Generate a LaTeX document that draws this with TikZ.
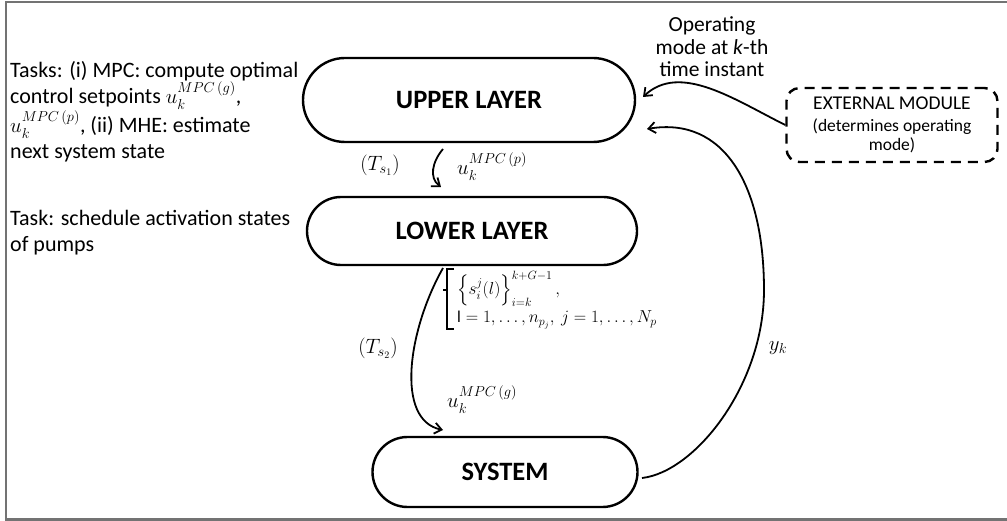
\documentclass[tikz,border=0pt]{standalone}
\usepackage{amsmath}
\usepackage{fontspec}
\setmainfont{Carlito}
\usetikzlibrary{shapes.misc,arrows.meta}
\begin{document}
\begin{tikzpicture}[x=1pt,y=-1pt,
  layer/.style={draw, line width=2.4pt, rounded rectangle, inner sep=0pt,
    font=\fontsize{26.5}{28}\selectfont\bfseries},
  extbox/.style={draw, line width=2.4pt, dash pattern=on 10pt off 7pt, rounded corners=13pt,
    inner sep=0pt, align=center, font=\fontsize{17.5}{19}\selectfont},
  txt/.style={inner sep=0pt, align=left, font=\fontsize{22}{26}\selectfont},
  mlab/.style={inner sep=0pt, font=\fontsize{20}{23}\selectfont},
  arr/.style={line width=1.8pt, -{Straight Barb[length=7pt,width=11pt]}},
  brk/.style={line width=1.3pt}
]
\useasboundingbox (0,0) rectangle (1007,521);
\draw[black!55, line width=2.2pt] (1010,2) -- (6,2) -- (6,519.5) -- (1010,519.5);

\node[layer, minimum width=332pt, minimum height=84pt] (up) at (469,100) {UPPER LAYER};
\node[layer, minimum width=330pt, minimum height=68pt] (low) at (472,231) {LOWER LAYER};
\node[layer, minimum width=265pt, minimum height=70pt] (sys) at (505,472) {SYSTEM};
\node[extbox, minimum width=211pt, minimum height=74pt] (ext) at (892,125)
  {{\fontsize{19.5}{20}\selectfont EXTERNAL MODULE}\\[3pt](determines operating\\mode)};

\node[txt, anchor=north west] (tasks) at (10,61)
  {Tasks: (i) MPC: compute optimal\\
   control setpoints $u_k^{MPC\,(g)}$,\\
   $u_k^{MPC\,(p)}$, (ii) MHE: estimate\\
   next system state};
\node[txt, anchor=north west] (task2) at (10,210)
  {Task: schedule activation states\\ of pumps};

\node[inner sep=0pt, align=center, font=\fontsize{21.5}{22.5}\selectfont] (opm) at (712,47)
  {Operating\\ mode at \textit{k}-th\\ time instant};

\node[mlab] (ts1) at (380,165) {$(T_{s_1})$};
\node[mlab, anchor=west] (up1) at (457,167) {$u_k^{MPC\,(p)}$};
\node[mlab] (ts2) at (378,348) {$(T_{s_2})$};
\node[mlab, anchor=west] (ug) at (447,400) {$u_k^{MPC\,(g)}$};
\node[mlab] (yk) at (778,348) {$y_k$};
\node[inner sep=0pt, font=\fontsize{16.5}{19}\selectfont, anchor=west] (sched) at (457,300)
  {$\begin{array}{@{}l}
     \left\{s_i^j(l)\right\}_{i=k}^{k+G-1}, \\[9pt]
     \mathrm{l}=1,\dots,n_{p_j},\ j=1,\dots,N_p
   \end{array}$};
\draw[brk] ([xshift=-3pt,yshift=2pt]sched.north west) -- ([xshift=-10pt,yshift=2pt]sched.north west)
  -- ([xshift=-10pt]sched.south west) -- ([xshift=-3pt]sched.south west);
\draw[brk] ([xshift=-10pt,yshift=-19pt]sched.north west) -- ++(-4pt,0);

\coordinate (a1s) at (443,149);
\coordinate (a1e) at (441,187);
\draw[arr] (a1s) .. controls (432,162) and (429,178) .. (a1e);

\coordinate (a2s) at (443,268);
\coordinate (a2e) at (443,430);
\draw[arr] (a2s) .. controls (408,330) and (395,420) .. (a2e);

\coordinate (fbs) at (642,478);
\coordinate (fbm) at (764,290);
\coordinate (fbe) at (647,129);
\draw[arr] (fbs) .. controls (695,472) and (764,385) .. (fbm)
  .. controls (764,185) and (724,116) .. (fbe);

\coordinate (ome) at (643,97);
\draw[arr] (ext.west) .. controls (735,100) and (680,62) .. (ome);
\end{tikzpicture}
\end{document}
